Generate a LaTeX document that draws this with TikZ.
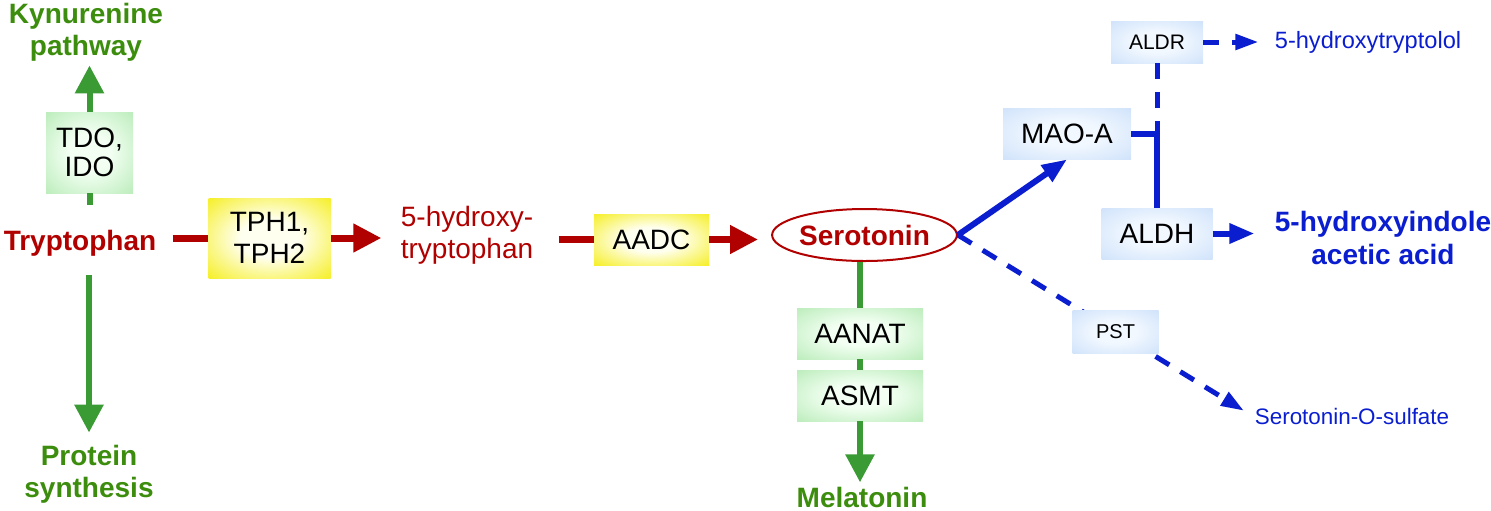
\documentclass[tikz,border=0pt]{standalone}
\usepackage{fontspec}
\setmainfont{Liberation Sans}
\usetikzlibrary{arrows.meta, positioning, shapes.geometric}
\definecolor{trpred}{HTML}{B00000}
\definecolor{pathgreen}{HTML}{3A9A34}
\definecolor{labelgreen}{HTML}{3C8D0D}
\definecolor{pathblue}{HTML}{0A1ED0}
\definecolor{yelout}{HTML}{F4EC00}
\definecolor{yelin}{HTML}{FFFFF0}
\definecolor{grnout}{HTML}{B2E9B2}
\definecolor{grnin}{HTML}{F2FFF2}
\definecolor{bluout}{HTML}{CADFFA}
\definecolor{bluin}{HTML}{F2F8FF}
\pgfdeclareradialshading{yelglow}{\pgfpoint{0bp}{0bp}}{color(0bp)=(yelin);
  color(12bp)=(yelin); color(40bp)=(yelout); color(50bp)=(yelout)}
\pgfdeclareradialshading{grnglow}{\pgfpoint{0bp}{0bp}}{color(0bp)=(grnin);
  color(12bp)=(grnin); color(40bp)=(grnout); color(50bp)=(grnout)}
\pgfdeclareradialshading{bluglow}{\pgfpoint{0bp}{0bp}}{color(0bp)=(bluin);
  color(12bp)=(bluin); color(40bp)=(bluout); color(50bp)=(bluout)}

\begin{document}
\begin{tikzpicture}[
  x=0.5pt, y=-0.5pt,
  font=\fontsize{14}{16}\selectfont,
  enzbox/.style={inner sep=0pt, align=center, text=black},
  yelbox/.style={enzbox, shading=yelglow},
  grnbox/.style={enzbox, shading=grnglow},
  blubox/.style={enzbox, shading=bluglow},
  smallbox/.style={blubox, font=\fontsize{10.5}{12}\selectfont},
  metabred/.style={text=trpred, align=center, inner sep=1pt},
  metabgreen/.style={text=labelgreen, font=\fontsize{14}{16}\selectfont\bfseries,
                     align=center, inner sep=1pt},
  metabblue/.style={text=pathblue, align=center, inner sep=1pt},
  redline/.style={draw=trpred, line width=3.5pt},
  redarrow/.style={redline, -{Triangle[length=14pt, width=13.5pt]}},
  greenline/.style={draw=pathgreen, line width=3pt},
  greenarrow/.style={greenline, -{Triangle[length=14pt, width=14pt]}},
  blueline/.style={draw=pathblue, line width=3pt},
  bluearrow/.style={blueline, -{Triangle[length=12.5pt, width=9.5pt]}},
  bluedash/.style={draw=pathblue, line width=2.5pt, dash pattern=on 8pt off 6.5pt},
  bluedasharrow/.style={bluedash, -{Triangle[length=11.5pt, width=7.5pt]}}
]
\useasboundingbox (0,0) rectangle (1491,510);

% ---------------- Tryptophan and side routes ----------------
\node[metabred, font=\fontsize{14}{16}\selectfont\bfseries] (trp) at (80,243) {Tryptophan};
\node[grnbox, minimum width=43.5pt, minimum height=40.5pt,
      font=\fontsize{14}{14.5}\selectfont] (tdo) at (89.5,152.5) {TDO,\\IDO};
\node[metabgreen] (kyn) at (86,32) {Kynurenine\\pathway};
\node[metabgreen] (prot) at (89,474) {Protein\\synthesis};

% ---------------- Serotonin synthesis ----------------
\node[yelbox, minimum width=61pt, minimum height=40pt] (tph) at (269.5,238) {TPH1,\\TPH2};
\node[metabred] (htp) at (467,235) {5-hydroxy-\\tryptophan};
\node[yelbox, minimum width=57.5pt, minimum height=25.5pt] (aadc) at (651.5,239.5) {AADC};
\node[ellipse, draw=trpred, line width=1pt, inner sep=0pt,
      minimum width=85.5pt, minimum height=26pt, text=trpred,
      font=\fontsize{14}{16}\selectfont\bfseries] (ser) at (864.5,235) {Serotonin};

% ---------------- Melatonin branch ----------------
\node[grnbox, minimum width=63pt, minimum height=25.5pt] (aanat) at (860,333.5) {AANAT};
\node[grnbox, minimum width=63pt, minimum height=25.5pt] (asmt) at (860,395.5) {ASMT};
\node[metabgreen] (mel) at (862,497) {Melatonin};

% ---------------- Degradation ----------------
\node[blubox, minimum width=64pt, minimum height=25.5pt] (mao) at (1067,133.5) {MAO-A};
\node[smallbox, minimum width=46pt, minimum height=21pt] (aldr) at (1157,42) {ALDR};
\node[blubox, minimum width=55.5pt, minimum height=25.5pt] (aldh) at (1157,233.5) {ALDH};
\node[metabblue, font=\fontsize{11.8}{13}\selectfont] (htol) at (1368,42) {5-hydroxytryptolol};
\node[metabblue, font=\fontsize{14}{16.5}\selectfont\bfseries] (hiaa) at (1383,238)
  {5-hydroxyindole\\acetic acid};
\node[metabblue, font=\fontsize{11.2}{13}\selectfont] (sulf) at (1352,416) {Serotonin-O-sulfate};

% ---------------- Arrows ----------------
\draw[greenline, shorten <=11.5pt] (tdo.south |- trp.north) -- (tdo.south);
\draw[greenarrow, shorten >=1pt] (tdo.north) -- (tdo.north |- kyn.south);
\draw[greenarrow, shorten <=8.5pt, shorten >=5pt] (prot.north |- trp.south) -- (prot.north);

\draw[redline, shorten <=7pt] (tph.west -| trp.east) -- (tph.west);
\draw[redarrow, shorten >=8.5pt] (tph.east) -- (htp.west |- tph.east);
\draw[redline, shorten <=11.5pt] (htp.east |- aadc.west) -- (aadc.west);
\draw[redarrow, shorten >=6.5pt] (aadc.east) -- (aadc.east -| ser.west);

% melatonin
\draw[greenline] (aanat.north |- ser.south) -- (aanat.north);
\draw[greenline] (aanat.south) -- (asmt.north);
\draw[greenarrow, shorten >=1pt] (asmt.south) -- (asmt.south |- mel.north);

% MAO-A route
\draw[bluearrow] (ser.east) -- (mao.south);
\draw[blueline] (mao.east) -| (aldh.north);
\draw[bluedash] (aldr.south) -- (aldr.south |- mao.east);
\draw[bluedasharrow, shorten >=7pt] (aldr.east) -- (htol.west);
\draw[bluearrow, shorten >=9pt] (aldh.east) -- (aldh.east -| hiaa.west);

% sulfation
\draw[bluedasharrow, shorten >=5pt] (ser.east)
  -- node[pos=0.535, smallbox, font=\fontsize{10}{12}\selectfont,
          minimum width=43pt, minimum height=21.5pt] (pst) {PST} (sulf.west);

\end{tikzpicture}
\end{document}
